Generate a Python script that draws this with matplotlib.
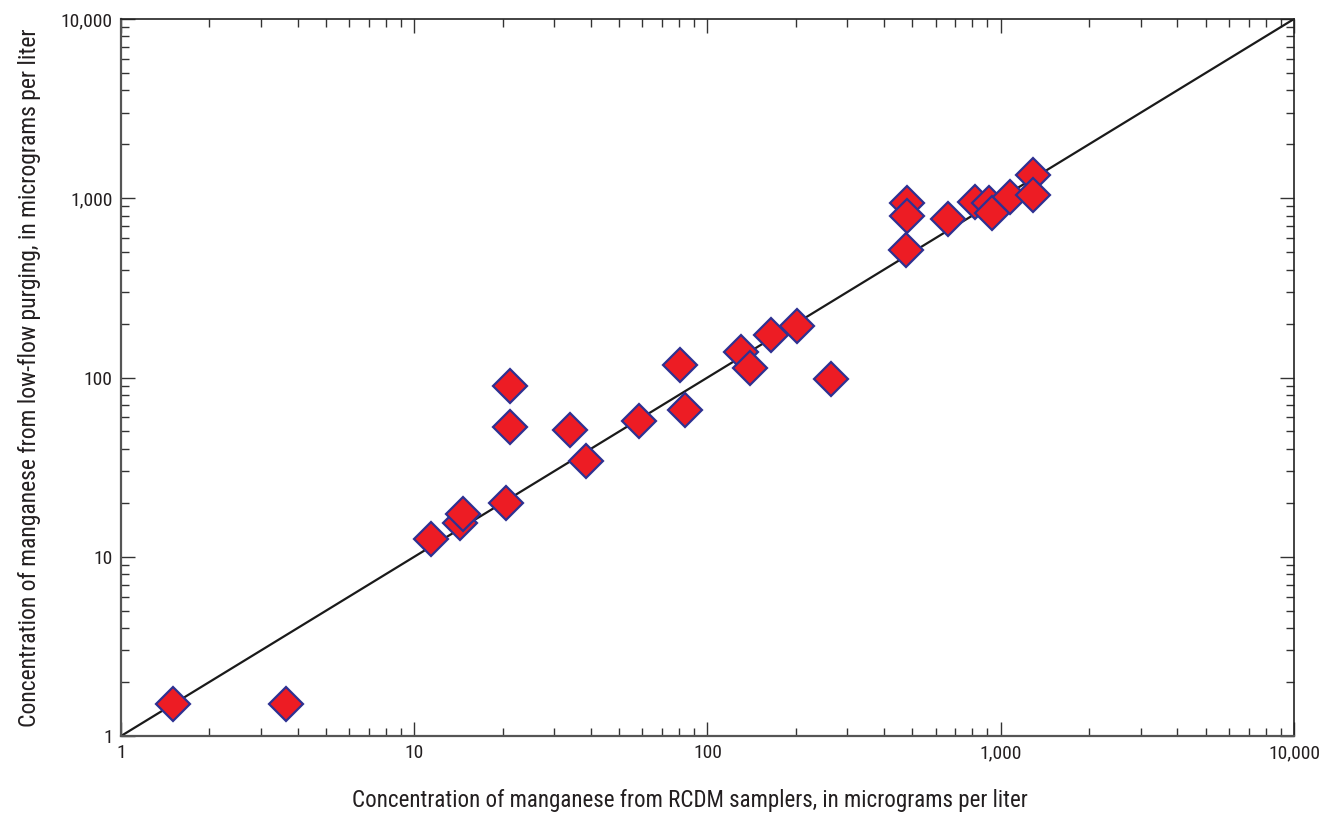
import matplotlib
matplotlib.use("Agg")
import matplotlib.pyplot as plt
from matplotlib.ticker import LogLocator, FixedLocator, FixedFormatter, NullFormatter

plt.rcParams['font.family'] = ['Roboto Condensed', 'DejaVu Sans']

# Manganese concentrations, micrograms per liter
rcdm = [1.5, 3.65, 11.4, 14.3, 14.7, 20.5, 21.2, 21.2, 34.0, 38.5, 58.4, 80.5,
        83.8, 130, 140, 165, 202, 264, 479, 479, 475, 661, 817, 912, 933, 1076,
        1288, 1288]
low_flow = [1.5, 1.5, 12.6, 15.4, 17.3, 20.0, 53.0, 89.7, 51.0, 34.2, 57.2, 117,
            65.9, 139, 113, 173, 194, 98, 941, 796, 514, 766, 953, 941, 827, 1016,
            1349, 1043]

major_ticks = [1, 10, 100, 1000, 10000]
tick_labels = ["1", "10", "100", "1,000", "10,000"]

fig = plt.figure(figsize=(13.31, 8.15), dpi=100)
ax = fig.add_axes([0.0909, 0.0969, 0.8813, 0.8798])
ax.set_xscale('log')
ax.set_yscale('log')
ax.set_xlim(1, 10000)
ax.set_ylim(1, 10000)

# line of equal concentration
ax.plot([1, 10000], [1, 10000], color='#1a1a1a', lw=1.6, zorder=2)

ax.plot(rcdm, low_flow, linestyle='none', marker='D', markersize=17.5,
        markerfacecolor='#ed1c24', markeredgecolor='#2e3192',
        markeredgewidth=1.6, zorder=3, clip_on=False)

for axis in (ax.xaxis, ax.yaxis):
    axis.set_major_locator(FixedLocator(major_ticks))
    axis.set_major_formatter(FixedFormatter(tick_labels))
    axis.set_minor_locator(LogLocator(base=10, subs=range(2, 10)))
    axis.set_minor_formatter(NullFormatter())

ax.tick_params(which='both', direction='in', top=True, right=True,
               color='#333333', width=1.0)
ax.tick_params(which='major', length=10, labelsize=14, pad=6, labelcolor='#231f20')
ax.tick_params(which='minor', length=6)

for side in ('left', 'bottom'):
    ax.spines[side].set_color('#555555')
    ax.spines[side].set_linewidth(1.6)
for side in ('top', 'right'):
    ax.spines[side].set_color('#222222')
    ax.spines[side].set_linewidth(1.2)

ax.set_xlabel('Concentration of manganese from RCDM samplers, in micrograms per liter',
              fontsize=16.6, color='#231f20')
ax.xaxis.set_label_coords(0.485, -0.074)
ax.set_ylabel('Concentration of manganese from low-flow purging, in micrograms per liter',
              fontsize=17, color='#231f20', labelpad=14)

fig.savefig('out.png', dpi=100)
